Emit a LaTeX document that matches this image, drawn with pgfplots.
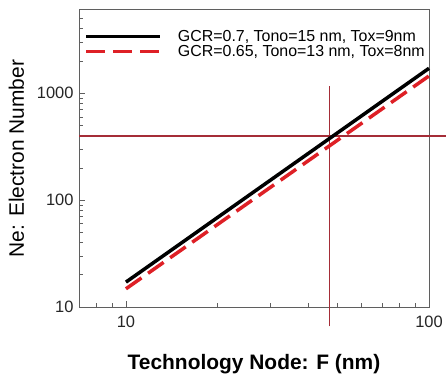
\documentclass[border=0pt]{standalone}
\usepackage{pgfplots}
\pgfplotsset{compat=1.18}
\usepackage{fontspec}
\setmainfont{Liberation Sans}
\definecolor{redline}{RGB}{222,32,38}
\definecolor{crossred}{RGB}{165,45,55}
\definecolor{axisgray}{RGB}{95,95,95}
\begin{document}
\begin{tikzpicture}
\begin{axis}[name=ax,
  scale only axis, width=350bp, height=297bp,
  xmode=log, ymode=log,
  xmin=7, xmax=100, ymin=10, ymax=6000,
  xtick={10,100}, xticklabels={10,100},
  ytick={10,100,1000}, yticklabels={10,100,1000},
  minor xtick={7,8,9,20,30,40,50,60,70,80,90},
  minor ytick={20,30,40,50,60,70,80,90,200,300,400,500,600,700,800,900,2000,3000,4000,5000},
  tick align=inside, tick pos=left,
  major tick length=6bp, minor tick length=4bp,
  axis line style={axisgray, line width=1pt},
  every tick/.style={axisgray, line width=0.8pt},
  ticklabel style={font=\fontsize{16.5}{19}\selectfont, text=black!85},
  xticklabel style={yshift=-6bp},
  yticklabel style={xshift=-2bp},
  xlabel={\textbf{Technology Node: F (nm)}},
  ylabel={Ne: Electron Number},
  xlabel style={font=\fontsize{21}{24}\selectfont, yshift=-19bp},
  ylabel style={font=\fontsize{21}{24}\selectfont, yshift=6bp},
  clip=false,
  legend style={draw=none, fill=none, at={(0.015,0.94)}, anchor=north west,
    font=\fontsize{16}{19}\selectfont, row sep=-1.5bp, inner sep=0pt},
  legend cell align=left,
  legend image code/.code={\draw[#1] (0bp,0bp) -- (74bp,0bp); \path (88bp,0bp);},
]
\addplot[crossred, line width=1.4bp, forget plot] coordinates {(47,6.6) (47,1160)};
\addplot[crossred, line width=1.4bp, forget plot] coordinates {(7,396) (114,396)};
\addplot[black, line width=3.5bp] coordinates {(10,17.1) (100,1710)};
\addlegendentry{GCR=0.7, Tono=15 nm, Tox=9nm}
\addplot[redline, line width=3.5bp, dash pattern=on 19bp off 8bp] coordinates {(10,14.8) (100,1450)};
\addlegendentry{GCR=0.65, Tono=13 nm, Tox=8nm}
\end{axis}
\pgfresetboundingbox
\path (ax.south west) ++(-79bp,-72bp) rectangle ++(446bp,379bp);
\end{tikzpicture}
\end{document}
